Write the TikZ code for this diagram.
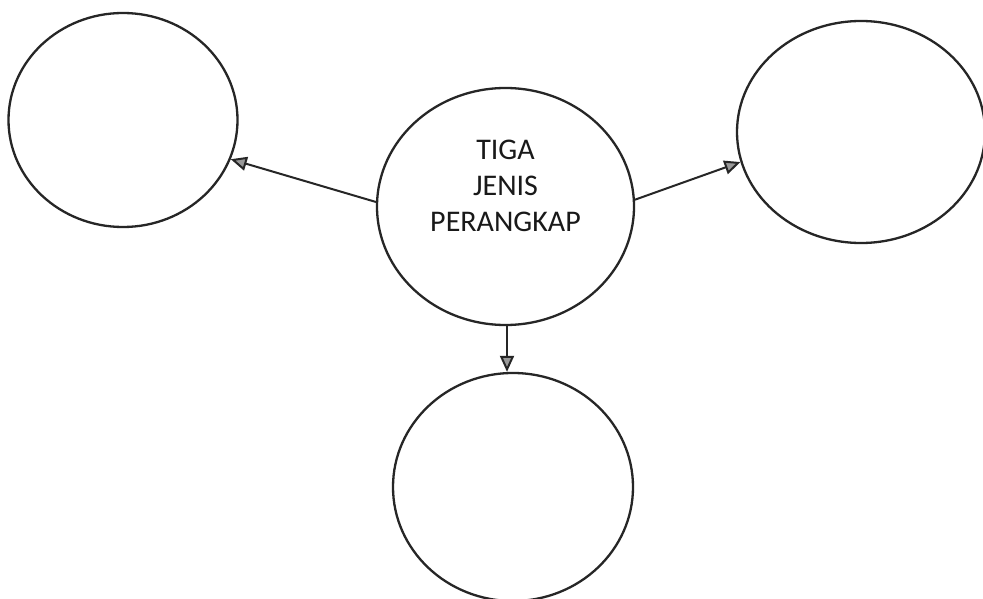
\documentclass[tikz,border=0pt]{standalone}
\usepackage{fontspec}
\setmainfont{Carlito}
\usetikzlibrary{shapes.geometric,arrows.meta}
\begin{document}
\begin{tikzpicture}[x=1pt,y=-1pt,
  bubble/.style={draw=black!85,line width=2.3pt,ellipse,inner sep=0pt},
  conn/.style={draw=black!85,line width=2pt,-{Triangle[open,length=16pt,width=14pt,line width=2pt,fill=black!40]}},
  title/.style={font=\fontsize{30}{36}\selectfont,align=center,text=black!90}]
\useasboundingbox[fill=white] (0,0) rectangle (983,599);
\node[bubble,minimum width=229pt,minimum height=214pt] (l) at (123,120) {};
\node[bubble,minimum width=248pt,minimum height=222pt] (r) at (861,132) {};
\node[bubble,minimum width=257pt,minimum height=237pt] (c) at (505.5,206.5) {};
\node[bubble,minimum width=240pt,minimum height=228pt] (b) at (513,487) {};
\node[title] (t) at (505.5,186) {TIGA\\JENIS\\PERANGKAP};
\draw[conn] (c.178) -- (l.-20);
\draw[conn] (c.3) -- (r.-166);
\draw[conn] ([xshift=1.5pt]c.south) -- ([xshift=1.5pt]c.south |- b.north);
\end{tikzpicture}
\end{document}
